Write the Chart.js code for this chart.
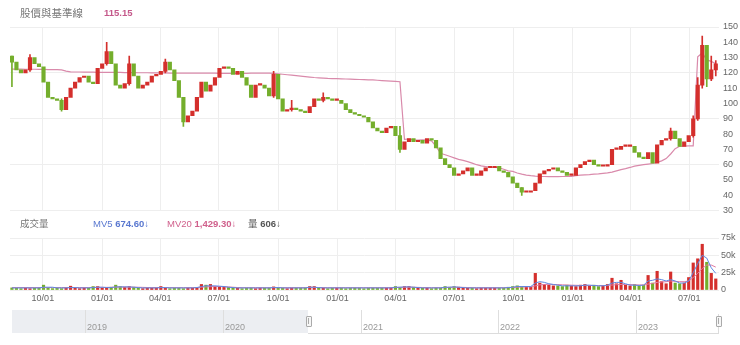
<!DOCTYPE html>
<html>
<head>
<meta charset="utf-8">
<script src="https://cdn.jsdelivr.net/npm/chart.js@4.4.0/dist/chart.umd.min.js"></script>
<style>
body{margin:0;background:#fff;font-family:"Liberation Sans",Arial,"Noto Sans CJK TC",sans-serif;}
#wrap{position:relative;width:740px;height:345px;overflow:hidden;}
canvas{position:absolute;left:0;}
.hd{position:absolute;font-size:9.5px;line-height:14px;color:#666;white-space:nowrap;}
.hd b{font-weight:600;}
#nav{position:absolute;left:0;top:0;width:740px;height:345px;}
.nv{position:absolute;}
</style>
</head>
<body>
<div id="wrap">
  <canvas id="price" width="740" height="220" style="top:0"></canvas>
  <canvas id="vol" width="740" height="77" style="top:228px"></canvas>
  <div class="hd" style="left:20px;top:6px;font-size:10.5px;color:#777">股價與基準線</div>
  <div class="hd" style="left:104px;top:6px;color:#c4588a"><b>115.15</b></div>
  <div class="hd" style="left:20px;top:217px;color:#777">成交量</div>
  <div class="hd" style="left:93px;top:217px;color:#5a78d0">MV5 <b>674.60</b>↓</div>
  <div class="hd" style="left:167px;top:217px;color:#d0608c">MV20 <b>1,429.30</b>↓</div>
  <div class="hd" style="left:248px;top:217px;color:#555">量 <b>606</b>↓</div>
  <div id="nav"></div>
</div>
<script>
// weekly samples, first one on startDate
const startDate = '2020-08-14';
const firstOpen = 131;

const close = [
  127,122,120,122,130,126,124,114,104,103,
  102,96,104,110,114,117,118,114,113,123,
  126,134,126,112,110,113,126,118,110,112,
  114,118,119,121,127,122,115,104,88,92,
  95,104,114,108,112,117,123,124,123,119,
  121,117,112,104,112,112,110,105,119,103,
  95,96,97,96,95,94,98,103,102,104,
  103,102,102,100,96,94,93,92,91,88,
  84,82,81,84,85,79,70,75,77,75,
  76,74,77,76,71,64,60,58,53,54,
  56,58,53,53,56,58,58,59,56,55,
  52,48,45,42,42,43,48,54,56,57,
  58,56,55,53,53,58,60,62,63,60,
  59,59,60,70,70,72,72,72,68,65,
  64,68,61,73,76,77,82,77,72,75,
  79,90,112,138,116,122,126
];

// weeks whose shadows reach well past the body
const wickWeeks = [0, 4, 11, 21, 26, 34, 38, 58, 62, 69, 86, 113, 146, 151, 152, 153, 154, 155, 156];
const wickLow  = [111, 121, 95, 125, 112, 120, 85, 104, 95, 101, 68, 40, 76, 78, 89, 110, 111, 115, 118];
const wickHigh = [131, 132, 103, 140, 131, 129, 104, 121, 102, 107, 85, 45, 84, 92, 117, 144, 138, 131, 128];

const baseline = [
  122.5,122.5,122.5,122.4,122.4,122.4,122.3,122.3,122.2,122.2,122.1,122.0,
  121.2,120.7,
  120.6,120.6,120.5,120.5,120.5,120.4,120.4,120.4,120.3,120.3,
  120.3,120.2,120.2,120.2,120.1,120.1,120.1,120.0,120.0,120.0,
  120.0,119.9,119.9,119.9,119.9,119.8,119.8,119.8,119.8,119.8,
  119.8,119.8,119.7,119.7,119.7,119.7,119.7,119.7,119.7,
  119.9,119.9,119.9,119.8,119.8,119.7,
  119.4,119.1,118.8,118.5,118.2,117.9,117.6,117.3,117.0,116.8,116.6,116.4,
  116.3,116.2,116.1,116.0,115.9,115.8,115.7,115.6,115.5,115.4,
  115.2,115.0,114.8,114.6,114.4,114.2,
  76.5,76.8,76.2,76.0,76.3,76.1,75.6,
  72.0,67.5,66.5,65.5,64.5,63.5,62.8,62.0,61.0,60.0,59.2,58.8,58.4,58.2,
  58.0,57.0,56.0,55.6,54.6,53.8,53.2,52.8,52.5,52.3,52.3,52.2,52.2,52.2,52.3,52.3,52.4,
  52.8,53.2,53.4,53.5,53.8,54.0,54.3,54.6,55.2,56.0,56.8,57.4,58.2,59.1,59.6,60.0,
  60.4,60.8,61.5,62.5,64.0,67.0,70.5,72.0,72.2,72.3,72.3,
  130.5,133.0,128.5,127.5,126.0
];

// volume in thousands
const volume = [
  3,3,2,3,2,3,3,7,3,2,
  3,2,3,5.5,3,2,3,3,5,5,
  3,3,4,7,5,4,5,4,3,2,
  3,3,3,5,3,2,3,3,2,3,
  3,3,8,7,8,5,5,4,4,3,
  3,2,3,3,2,3,3,3,4.5,3,
  3,2,3,3,3,3,5,5,3,3,
  2,3,3,3,2,3,3,3,2,3,
  3,3,3,3,3,5,4,5,5,4,
  3,3,3,2,3,3,5,4,5,4,
  3,3,3,2,3,3,3,3,3,3,
  4,5,6,5,5,4,24,10,8,7,
  6,6,5,7,6,5,7,8,6,7,
  5,6,8,17,9,14,7,6,8,6,
  7,21,10,27,12,9,26,10,9,10,
  18,39,45,66,40,24,16
];

const mv5 = [
  3,3,3,3,3,3,3,4,4,4,
  3,3,3,3.5,3.5,3,3,3,3.5,4,
  4,3.5,3.5,4.5,4.5,4.5,4.5,4,3.5,3,
  3,3,3,3.5,3.5,3,3,3,3,3,
  3,3.5,5,6,6,6,5.5,5,4,3.5,
  3,3,3,3,3,3,3,3,3.5,3.5,
  3,3,3,3,3,3,4,4,3.5,3,
  3,3,3,3,3,3,3,3,3,3,
  3,3,3,3,3,4,4,4.5,4.5,4,
  3.5,3,3,3,3,3,4,4,4.5,4,
  3.5,3,3,3,3,3,3,3,3,3,
  3.5,4,5,5,5,5,10,12,11,9,
  8,7,6,6,6,6,6,7,7,6.5,
  6,6,7,10,11,11,9,7,7,6.5,
  7,13,14,16,15,13,15,13,10,10,
  13,25,38,50,46,32,24
];

const mv20 = [
  3.5,3.5,3.5,3.5,3.5,3.5,3.5,3.5,3.5,3.5,
  3.5,3.5,3.5,3.6,3.6,3.6,3.6,3.6,3.7,3.8,
  3.8,3.8,3.9,4.1,4.2,4.2,4.2,4.1,4.0,3.8,
  3.6,3.5,3.5,3.5,3.5,3.5,3.4,3.4,3.4,3.4,
  3.4,3.5,4.0,4.5,4.8,5.0,5.0,4.8,4.4,4.0,
  3.6,3.4,3.3,3.3,3.3,3.3,3.3,3.3,3.4,3.4,
  3.3,3.3,3.3,3.3,3.3,3.3,3.5,3.6,3.6,3.5,
  3.3,3.3,3.3,3.3,3.3,3.3,3.3,3.3,3.3,3.3,
  3.3,3.3,3.3,3.3,3.3,3.5,3.7,3.9,4.0,4.0,
  3.8,3.6,3.4,3.3,3.3,3.3,3.5,3.8,4.0,4.0,
  3.8,3.6,3.4,3.3,3.3,3.3,3.3,3.3,3.3,3.3,
  3.4,3.6,4.0,4.3,4.5,4.6,6.0,7.5,8.0,8.2,
  8.0,7.8,7.5,7.2,7.0,6.8,6.6,6.6,6.5,6.5,
  6.4,6.4,6.5,7.2,7.6,8.0,8.0,7.8,7.5,7.3,
  7.3,8.5,9.5,11,11.5,12,13,12.5,12,12,
  13,18,24,31,36,36,33
];

const quarterStarts = ['2020-10-01','2021-01-01','2021-04-01','2021-07-01','2021-10-01','2022-01-01',
  '2022-04-01','2022-07-01','2022-10-01','2023-01-01','2023-04-01','2023-07-01'];
const tickLabels = ['10/01','01/01','04/01','07/01','10/01','01/01','04/01','07/01','10/01','01/01','04/01','07/01'];
const navYears = ['2019','2020','2021','2022','2023'];

const DAY = 86400000;
const dayOf = d => Math.round((Date.parse(d) - Date.parse(startDate)) / DAY);
const tickDays = quarterStarts.map(dayOf);
const xs = close.map((c, i) => i * 7);
const opens = close.map((c, i) => i ? close[i - 1] : firstOpen);
const red = '#d42f2c', green = '#74ae2c';
const barColors = close.map((c, i) => c >= opens[i] ? red : green);

Chart.defaults.font.family = '"Liberation Sans", Arial, sans-serif';
Chart.defaults.font.size = 9;
Chart.defaults.color = '#666';

function xAxis(labels) {
  return {
    type: 'linear', min: -3, max: 1097, offset: false,
    afterBuildTicks: s => { s.ticks = tickDays.map(v => ({ value: v })); },
    afterFit: s => { s.height = labels ? 15 : 0; },
    ticks: { display: labels, autoSkip: false, maxRotation: 0, padding: 3, callback: (v, i) => tickLabels[i] },
    grid: { color: '#eeeeee', drawTicks: false, offset: false },
    border: { display: false }
  };
}

const plugins = { legend: { display: false }, tooltip: { enabled: false } };

new Chart(document.getElementById('price'), {
  type: 'bar',
  data: {
    datasets: [
      { type: 'line', data: baseline.map((v, i) => ({ x: xs[i], y: v })), borderColor: '#d98aab',
        borderWidth: 1.2, pointRadius: 0, tension: 0, order: 3 },
      { data: wickWeeks.map((w, k) => ({ x: xs[w], y: [wickLow[k], wickHigh[k]] })),
        backgroundColor: wickWeeks.map(w => barColors[w]), barThickness: 1, grouped: false, order: 2 },
      { data: close.map((c, i) => ({ x: xs[i], y: [opens[i], c] })), backgroundColor: barColors,
        barThickness: 3.5, minBarLength: 1.5, grouped: false, order: 1 }
    ]
  },
  options: {
    responsive: false, animation: false,
    layout: { padding: { left: 10, top: 27, bottom: 9, right: 0 } },
    plugins,
    scales: {
      x: xAxis(false),
      y: {
        position: 'right', min: 30, max: 150,
        ticks: { stepSize: 10, padding: 4 },
        grid: { color: c => c.tick.value % 30 === 0 ? '#eeeeee' : 'rgba(0,0,0,0)', drawTicks: false },
        border: { display: false },
        afterFit: s => { s.width = 21; }
      }
    }
  }
});

new Chart(document.getElementById('vol'), {
  type: 'bar',
  data: {
    datasets: [
      { type: 'line', data: mv5.map((v, i) => ({ x: xs[i], y: v })), borderColor: '#5d88e2',
        borderWidth: 1, pointRadius: 0, order: 0 },
      { type: 'line', data: mv20.map((v, i) => ({ x: xs[i], y: v })), borderColor: '#e07aa2',
        borderWidth: 1, pointRadius: 0, order: 0 },
      { data: volume.map((v, i) => ({ x: xs[i], y: v })), backgroundColor: barColors,
        barThickness: 2.5, order: 1 }
    ]
  },
  options: {
    responsive: false, animation: false,
    layout: { padding: { left: 10, top: 10, bottom: 0, right: 0 } },
    plugins,
    scales: {
      x: xAxis(true),
      y: {
        position: 'right', min: 0, max: 75,
        ticks: { stepSize: 25, padding: 2, callback: v => v ? v + 'k' : '0' },
        grid: { color: '#eeeeee', drawTicks: false },
        border: { display: false },
        afterFit: s => { s.width = 21; }
      }
    }
  }
});

// range navigator under the charts
const nav = document.getElementById('nav');
const navLeft = 12, navRight = 718, navTop = 310, navH = 23;
const navX = d => 85 + (Date.parse(d) - Date.parse('2019-01-01')) / DAY / 365.25 * 137.8;
const selX = Math.round(navX(startDate));
function box(css) {
  const el = document.createElement('div');
  el.className = 'nv';
  el.style.cssText = css;
  nav.appendChild(el);
  return el;
}
box(`left:${navLeft}px;top:${navTop}px;width:${selX - navLeft}px;height:${navH}px;background:#eceef2;`);
box(`left:${selX}px;top:${navTop + navH}px;width:${navRight - selX}px;height:1px;background:#dcdcdc;`);
box(`left:${navRight}px;top:${navTop + 4}px;width:1px;height:${navH - 3}px;background:#dcdcdc;`);
navYears.forEach(y => {
  const x = Math.round(navX(y + '-01-01'));
  box(`left:${x}px;top:${navTop}px;width:1px;height:${navH}px;background:#dedede;`);
  const t = box(`left:${x + 2}px;top:${navTop + 12}px;font-size:9px;line-height:11px;color:#999;`);
  t.textContent = y;
});
[selX - 2, navRight - 2].forEach(x => {
  box(`left:${x}px;top:${navTop + 6}px;width:4px;height:9px;border:1px solid #aaa;border-radius:1px;background:#f6f6f6;`);
  box(`left:${x + 2}px;top:${navTop + 8}px;width:1px;height:6px;background:#aaa;`);
});
</script>
</body>
</html>
